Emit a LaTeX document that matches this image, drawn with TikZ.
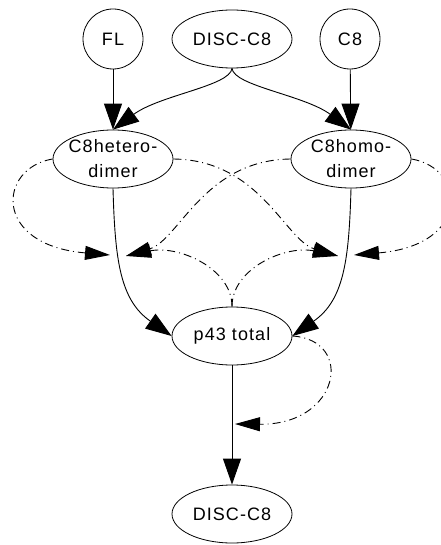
\documentclass[tikz,border=0pt]{standalone}
\usepackage{fontspec}
\setmainfont{Liberation Sans}[LetterSpace=6]
\usetikzlibrary{shapes.geometric,arrows.meta}
\begin{document}
\begin{tikzpicture}[x=1pt,y=-1pt,
  font=\fontsize{18}{25}\selectfont,
  circ/.style={circle, draw, line width=0.8pt, minimum size=60pt, inner sep=0pt},
  ell/.style={ellipse, draw, line width=0.8pt, minimum width=120pt, minimum height=58pt, inner sep=0pt},
  txt/.style={align=center, inner sep=0pt},
  flow/.style={draw, line width=0.9pt, -{Triangle[length=26pt,width=18pt]}},
  modif/.style={draw, line width=0.9pt, dash pattern=on 8pt off 4pt on 1pt off 4pt,
                -{Triangle[length=25pt,width=14pt]}}]
\useasboundingbox (0,0) rectangle (440,545);

% species
\node[circ] (FL) at (113,39) {FL};
\node[ell] (discT) at (232,39) {DISC-C8};
\node[circ] (C8) at (350,39) {C8};
\node[ell, label={[txt]center:C8hetero-\\dimer}] (het) at (113,159) {};
\node[ell, label={[txt]center:C8homo-\\dimer}] (hom) at (351,159) {};
\node[ell] (p43) at (232,336) {p43 total};
\node[ell] (discB) at (232,514) {DISC-C8};

% points where modifiers act on reactions
\coordinate (m1L) at (110,255);
\coordinate (m1R) at (126,256);
\coordinate (m2L) at (338,256);
\coordinate (m2R) at (354,255);
\coordinate (m3)  at (235,424);

% reactions
\draw[flow] (FL) -- (het);
\draw[flow] (C8) -- (hom);
\draw[flow] (discT.south) .. controls (230,86) and (160,95) .. (het.north);
\draw[flow] (discT.south) .. controls (234,86) and (304,95) .. (hom.north);
\draw[flow] (het.south) .. controls (115,260) and (120,300) .. (p43.west);
\draw[flow] (hom.south) .. controls (349,260) and (344,300) .. (p43.east);
\draw[flow] (p43) -- (discB);

% modifiers
\draw[modif] (het.west) .. controls (-2,168) and (-8,245) .. (m1L);
\draw[modif] (hom.west) .. controls (204,160) and (179,240) .. (m1R);
\draw[modif] (p43.north) .. controls (232,268) and (178,245) .. (m1R);
\draw[modif] (het.east) .. controls (260,160) and (285,240) .. (m2L);
\draw[modif] (p43.north) .. controls (232,268) and (286,245) .. (m2L);
\draw[modif] (hom.east) .. controls (466,168) and (472,245) .. (m2R);
\draw[modif] (p43.east) .. controls (355,340) and (340,425) .. (m3);
\end{tikzpicture}
\end{document}
